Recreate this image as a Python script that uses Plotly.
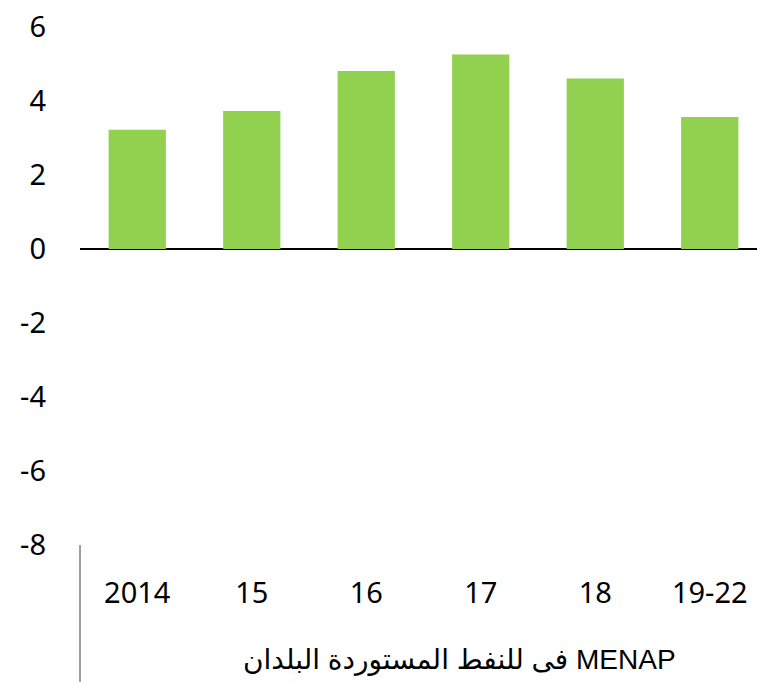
import plotly.graph_objects as go

categories = ["2014", "15", "16", "17", "18", "19-22"]
values = [3.22, 3.73, 4.81, 5.26, 4.61, 3.57]
y_ticks = [-8, -6, -4, -2, 0, 2, 4, 6]
title_words = ["البلدان", "المستوردة", "للنفط", "فى"]
title_latin = "MENAP"
# each Arabic word isolated so the words run left to right as in the source
title_text = " ".join("\u2066" + w + "\u2069" for w in title_words) + " " + title_latin

W, H = 757, 682
ml, mr, mt, mb = 80, 0, 27, 682 - 545
plot_w = W - ml - mr
plot_h = H - mt - mb
slot = 114.5

fig = go.Figure()
fig.add_trace(go.Bar(
    x=list(range(len(categories))),
    y=values,
    width=0.5,
    marker=dict(color="#92D050", line=dict(width=0)),
))

fig.update_layout(
    width=W, height=H,
    margin=dict(l=ml, r=mr, t=mt, b=mb, pad=0, autoexpand=False),
    plot_bgcolor="white", paper_bgcolor="white",
    showlegend=False,
    font=dict(family="Noto Sans, Open Sans, sans-serif", size=29, color="black"),
)
fig.update_xaxes(
    range=[-0.5, -0.5 + plot_w / slot],
    tickmode="array",
    tickvals=list(range(len(categories))),
    ticktext=categories,
    showgrid=False, showline=False, zeroline=False, ticks="",
    ticklabelstandoff=28,
    ticklabeloverflow="allow",
    automargin=False,
)
fig.update_yaxes(
    range=[-8, 6],
    tickmode="array",
    tickvals=y_ticks,
    ticktext=[str(v) for v in y_ticks],
    showgrid=False, showline=False, ticks="",
    zeroline=True, zerolinecolor="black", zerolinewidth=1.5,
    ticklabelstandoff=33,
    ticklabeloverflow="allow",
    automargin=False,
)
fig.add_shape(type="line", xref="paper", yref="paper",
              x0=0, x1=0, y0=0, y1=-mb / plot_h,
              line=dict(color="#404040", width=1))
fig.add_annotation(
    text=title_text, xref="paper", yref="paper",
    x=(460 - ml) / plot_w, y=-(660 - 545) / plot_h,
    xanchor="center", yanchor="middle", showarrow=False,
    font=dict(family="Liberation Sans, DejaVu Sans, sans-serif", size=28, color="black"),
)
fig.write_html(
    "out.html",
    config={"displayModeBar": False},
    post_script="document.body.style.margin='0';document.body.style.overflow='hidden';",
)
